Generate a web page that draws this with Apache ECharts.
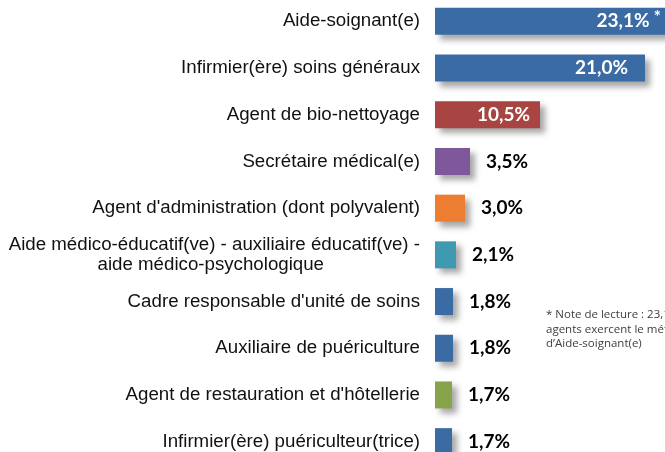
<!DOCTYPE html>
<html>
<head>
<meta charset="utf-8">
<script src="https://cdn.jsdelivr.net/npm/echarts@6/dist/echarts.min.js"></script>
<style>
  html, body { margin: 0; padding: 0; background: #fff; }
  #chart { width: 665px; height: 452px; }
</style>
</head>
<body>
<div id="chart"></div>
<script>
// categories, top to bottom
const metiers = [
  "Aide-soignant(e)",
  "Infirmier(ère) soins généraux",
  "Agent de bio-nettoyage",
  "Secrétaire médical(e)",
  "Agent d'administration (dont polyvalent)",
  "Aide médico-éducatif(ve) - auxiliaire éducatif(ve) -\naide médico-psychologique",
  "Cadre responsable d'unité de soins",
  "Auxiliaire de puériculture",
  "Agent de restauration et d'hôtellerie",
  "Infirmier(ère) puériculteur(trice)"
];
const parts = [23.1, 21.0, 10.5, 3.5, 3.0, 2.1, 1.8, 1.8, 1.7, 1.7];
const couleurs = ["#3a6ba5", "#3a6ba5", "#a84442", "#7f589b", "#ed7d31",
                  "#3f99b0", "#3a6ba5", "#3a6ba5", "#87a44a", "#3a6ba5"];
const noteLignes = [
  "* Note de lecture : 23,1% des",
  "agents exercent le métier",
  "d’Aide-soignant(e)"
];

const fmt = v => v.toFixed(1).replace(".", ",") + "%";

// inside labels for the 3 big bars, outside for the rest
const insideDist = [5, 17, 10];

const data = parts.map((v, i) => {
  const d = { value: v, itemStyle: { color: couleurs[i] } };
  if (i < 3) {
    d.label = {
      position: "insideRight",
      distance: insideDist[i],
      color: "#fff",
      formatter: i === 0 ? "{v|" + fmt(v) + "}{s| *}" : fmt(v),
      rich: {
        v: { color: "#fff", fontSize: 19, fontWeight: "bold", fontFamily: "Lato" },
        s: { color: "#fff", fontSize: 17, fontWeight: "bold", fontFamily: "Lato", verticalAlign: "top", padding: [0, 0, 8, 0] }
      }
    };
  }
  return d;
});

const myChart = echarts.init(document.getElementById("chart"), null, { renderer: "canvas" });

let option = {
  animation: false,
  grid: { left: 435, top: -2, width: 231, height: 467, outerBoundsMode: "none", containLabel: false },
  xAxis: {
    type: "value", min: 0, max: 23.1, show: false
  },
  yAxis: {
    type: "category",
    inverse: true,
    data: metiers,
    axisLine: { show: false },
    axisTick: { show: false },
    axisLabel: {
      margin: 15,
      color: "#111",
      fontSize: 18.7,
      fontFamily: "Liberation Sans",
      lineHeight: 20,
      formatter: (val) => {
        const l = val.split("\n");
        if (l.length === 1) return val;
        return "{a|" + l[0] + "}\n{b|" + l[1] + "}";
      },
      rich: {
        a: { fontSize: 18.7, fontFamily: "Liberation Sans", color: "#111", lineHeight: 20 },
        b: { fontSize: 18.7, fontFamily: "Liberation Sans", color: "#111", lineHeight: 20, padding: [0, 96, 0, 0] }
      }
    }
  },
  series: [{
    type: "bar",
    data,
    barWidth: 27,
    itemStyle: {
      shadowBlur: 6,
      shadowColor: "rgba(0,0,0,0.35)",
      shadowOffsetX: 5,
      shadowOffsetY: 5
    },
    label: {
      show: true,
      position: "right",
      distance: 16,
      color: "#000",
      fontSize: 19,
      fontWeight: "bold",
      fontFamily: "Lato",
      formatter: p => fmt(p.value)
    }
  }],
  graphic: noteLignes.map((t, i) => ({
    type: "text",
    left: 546,
    top: 309 + i * 14.5,
    style: { text: t, fontSize: 11.5, fontFamily: "Open Sans", fill: "#404040" }
  }))
};

option && myChart.setOption(option);
</script>
</body>
</html>
